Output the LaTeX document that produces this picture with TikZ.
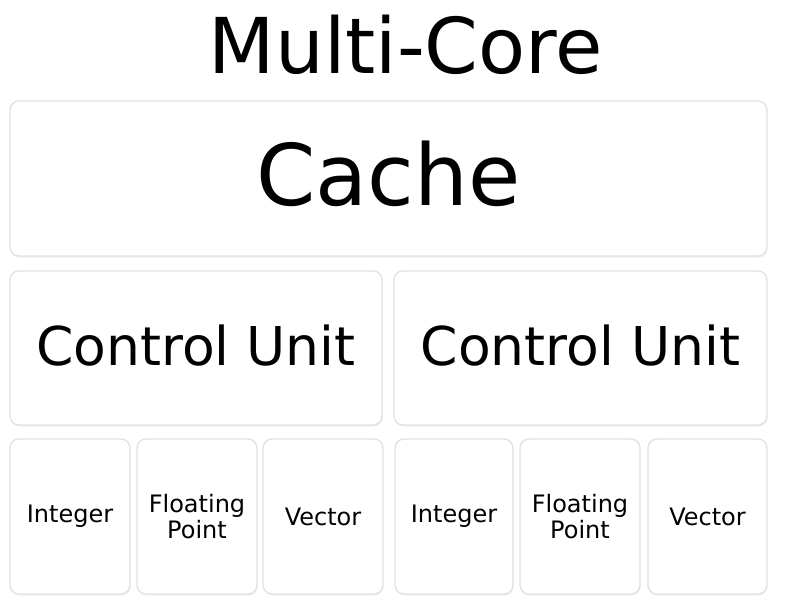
\documentclass[tikz,border=0pt]{standalone}
\usepackage{fontspec}
\setmainfont{DejaVu Sans}
\usetikzlibrary{shadows}
\definecolor{boxline}{HTML}{E2E2E2}

\begin{document}
\begin{tikzpicture}[x=1pt,y=-1pt,
 every node/.style={inner sep=0pt},
 unitbox/.style={draw=boxline,line width=1.4pt,fill=white,rounded corners=9pt,
  drop shadow={opacity=.12,shadow xshift=.6pt,shadow yshift=-1.6pt}},
 big/.style={unitbox,minimum height=155pt},
 alu/.style={unitbox,minimum width=120pt,minimum height=155pt,align=center,
  font=\fontsize{24}{26}\selectfont}]
\useasboundingbox (0,0) rectangle (798,610);
\node[font=\fontsize{77}{80}\selectfont] (title) at (406,45) {Multi-Core};
\node[big,minimum width=757pt,text depth=10pt,font=\fontsize{85}{90}\selectfont] (cache) at (388.5,178.5) {Cache};
\node[big,minimum width=372pt,minimum height=154pt,text depth=6pt,font=\fontsize{53.5}{60}\selectfont] (cuA) at (196,348) {Control Unit};
\node[big,minimum width=373pt,minimum height=154pt,text depth=6pt,font=\fontsize{53.5}{60}\selectfont] (cuB) at (580.5,348) {Control Unit};
\node[alu] (intA) at (70,516.5) {Integer};
\node[alu] (fpA) at (197,516.5) {Floating\\Point};
\node[alu] (vecA) at (323,516.5) {Vector};
\node[alu,minimum width=118pt] (intB) at (454,516.5) {Integer};
\node[alu] (fpB) at (580,516.5) {Floating\\Point};
\node[alu,minimum width=119pt] (vecB) at (707.5,516.5) {Vector};
\end{tikzpicture}
\end{document}
